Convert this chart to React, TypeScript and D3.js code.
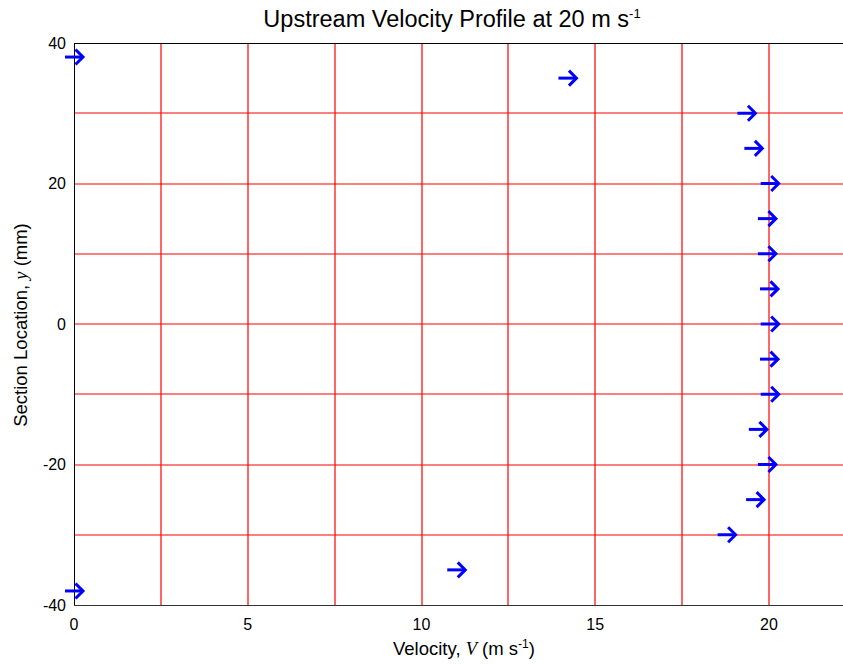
import React from "react";
import * as d3 from "d3";

const sectionY = [38, 35, 30, 25, 20, 15, 10, 5, 0, -5, -10, -15, -20, -25, -30, -35, -38];
const velocity = [0, 14.2, 19.35, 19.55, 20.02, 19.94, 19.94, 20.0, 20.02, 20.0, 20.02, 19.68, 19.94, 19.6, 18.78, 11.0, 0];
const xGrid = [2.5, 5, 7.5, 10, 12.5, 15, 17.5, 20];
const yGrid = [-30, -20, -10, 0, 10, 20, 30];
const xTickLabels = [0, 5, 10, 15, 20];
const yTickLabels = [40, 20, 0, -20, -40];

export default function App() {
  const W = 843, H = 664;
  const left = 74, top = 43, bottom = 605;
  const x = d3.scaleLinear().domain([0, 20]).range([left, 769]);
  const y = d3.scaleLinear().domain([-40, 40]).range([bottom, top]);
  const font = "'Liberation Sans', Arial, Helvetica, sans-serif";
  const serif = "'Liberation Serif', 'Times New Roman', serif";
  const arrowLen = 18;
  const head = 7.5;
  const px = (v: number) => Math.round(v);
  return (
    <svg width={W} height={H} style={{ position: "absolute", left: 0, top: 0 }} fontFamily={font}>
      <rect width={W} height={H} fill="#fff" />
      {xGrid.map((v) => (
        <line key={"gx" + v} x1={px(x(v))} x2={px(x(v))} y1={top} y2={bottom} stroke="#ff0000" strokeWidth={1.2} />
      ))}
      {yGrid.map((v) => (
        <line key={"gy" + v} x1={left} x2={W + 10} y1={px(y(v))} y2={px(y(v))} stroke="#ff0000" strokeWidth={1.2} />
      ))}
      <line x1={left} x2={W + 10} y1={top + 0.5} y2={top + 0.5} stroke="#000" strokeWidth={1} />
      <line x1={left} x2={W + 10} y1={bottom + 0.5} y2={bottom + 0.5} stroke="#333" strokeWidth={1} />
      <line x1={left + 0.5} x2={left + 0.5} y1={top} y2={bottom} stroke="#000" strokeWidth={1} />
      {yTickLabels.map((v) => (
        <text key={"yl" + v} x={left - 8} y={y(v)} dy="0.35em" textAnchor="end" fontSize={16}>
          {v}
        </text>
      ))}
      {xTickLabels.map((v) => (
        <text key={"xl" + v} x={x(v)} y={630} textAnchor="middle" fontSize={16}>
          {v}
        </text>
      ))}
      {sectionY.map((yy, i) => {
        const cx = x(velocity[i]);
        const cy = y(yy);
        const x0 = cx - arrowLen / 2;
        const x1 = cx + arrowLen / 2;
        return (
          <g key={"a" + i} stroke="#0000ff" strokeWidth={3} fill="none" strokeLinecap="butt">
            <line x1={x0} x2={x1 - 1} y1={cy} y2={cy} />
            <polyline points={`${x1 - head},${cy - head} ${x1},${cy} ${x1 - head},${cy + head}`} />
          </g>
        );
      })}
      <text x={452} y={27} textAnchor="middle" fontSize={23.5}>
        Upstream Velocity Profile at 20 m s<tspan dy={-9} fontSize={13}>-1</tspan>
      </text>
      <text x={393} y={655} textAnchor="start" fontSize={18.5}>
        Velocity, <tspan fontFamily={serif} fontStyle="italic">V</tspan> (m s<tspan dy={-7} fontSize={12}>-1</tspan><tspan dy={7}>)</tspan>
      </text>
      <text transform={`translate(27, 325) rotate(-90)`} textAnchor="middle" fontSize={18.5}>
        Section Location, <tspan fontFamily={serif} fontStyle="italic">y</tspan> (mm)
      </text>
    </svg>
  );
}
